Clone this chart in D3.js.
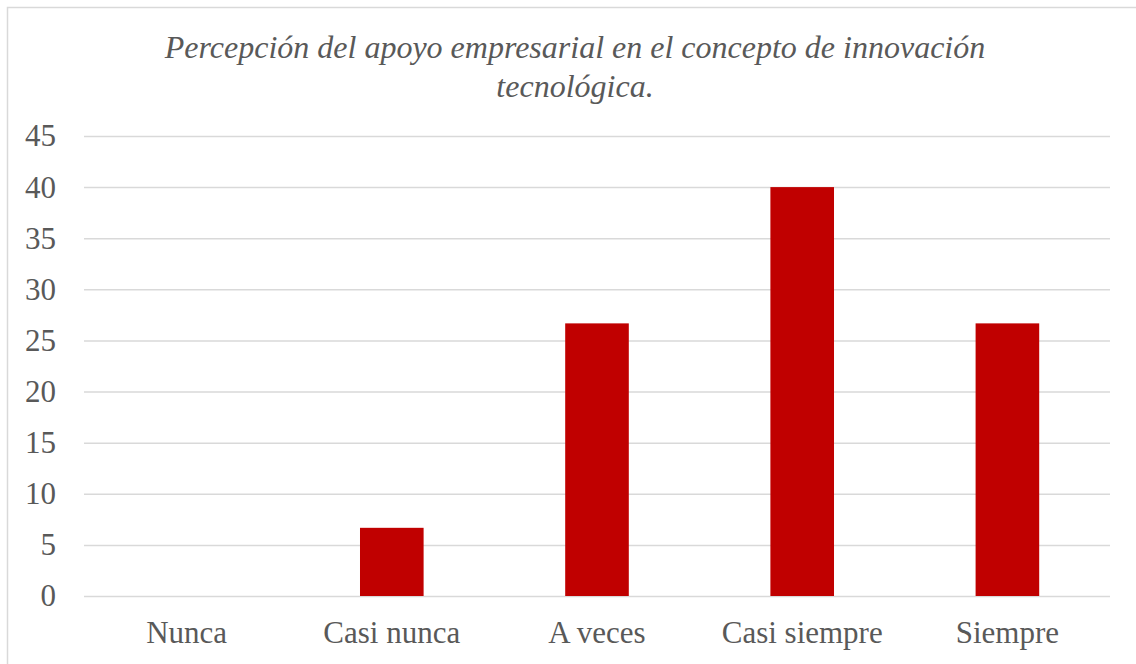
<!DOCTYPE html>
<html lang="es">
<head>
<meta charset="UTF-8">
<title>Percepción del apoyo empresarial</title>
<script src="https://cdn.jsdelivr.net/npm/d3@7"></script>
<style>
  body { margin: 0; background: #fff; }
  .grid line { stroke: #d9d9d9; stroke-width: 1.5px; }
  .grid .domain { display: none; }
  .axis text { font-family: "Liberation Serif", "Times New Roman", serif; font-size: 31px; fill: #595959; }
  .axis .domain, .axis line { display: none; }
  .title { font-family: "Liberation Serif", "Times New Roman", serif; font-style: italic; font-size: 32px; fill: #595959; }
</style>
</head>
<body>
<script>
var categories = ["Nunca", "Casi nunca", "A veces", "Casi siempre", "Siempre"];
var values = [0, 6.67, 26.67, 40, 26.67];
var yTicks = [0, 5, 10, 15, 20, 25, 30, 35, 40, 45];
var titleLines = ["Percepción del apoyo empresarial en el concepto de innovación", "tecnológica."];

var W = 1136, H = 664;
var margin = {top: 136, right: 26, bottom: 68, left: 84};
var width = W - margin.left - margin.right,
    height = H - margin.top - margin.bottom;

var svg = d3.select("body").append("svg")
    .attr("width", W)
    .attr("height", H);

// chart border
svg.append("rect")
    .attr("x", 7.5).attr("y", 7.5)
    .attr("width", W + 10).attr("height", H + 10)
    .attr("fill", "none")
    .attr("stroke", "#d9d9d9")
    .attr("stroke-width", 1.5);

var g = svg.append("g")
    .attr("transform", "translate(" + margin.left + "," + margin.top + ")");

var x = d3.scaleBand().domain(categories).range([0, width]).paddingInner(0.69).paddingOuter(0.345);
var y = d3.scaleLinear().domain([0, 45]).range([height, 0]);

// gridlines
g.append("g")
    .attr("class", "grid")
    .call(d3.axisLeft(y).tickValues(yTicks).tickSize(-width).tickFormat(""));

// bars
g.selectAll(".bar")
    .data(values)
    .enter().append("rect")
    .attr("class", "bar")
    .attr("x", function(d, i) { return x(categories[i]); })
    .attr("width", x.bandwidth())
    .attr("y", function(d) { return y(d); })
    .attr("height", function(d) { return height - y(d); })
    .attr("fill", "#c00000");

// y axis labels
g.append("g")
    .attr("class", "axis")
    .attr("transform", "translate(-28,0)")
    .call(d3.axisLeft(y).tickValues(yTicks).tickSize(0).tickPadding(0));

// x axis labels
g.append("g")
    .attr("class", "axis")
    .attr("transform", "translate(0," + height + ")")
    .call(d3.axisBottom(x).tickSize(0).tickPadding(25));

// title
svg.append("g").selectAll("text")
    .data(titleLines)
    .enter().append("text")
    .attr("class", "title")
    .attr("x", 575)
    .attr("y", function(d, i) { return 58 + i * 39; })
    .attr("text-anchor", "middle")
    .text(function(d) { return d; });
</script>
</body>
</html>
